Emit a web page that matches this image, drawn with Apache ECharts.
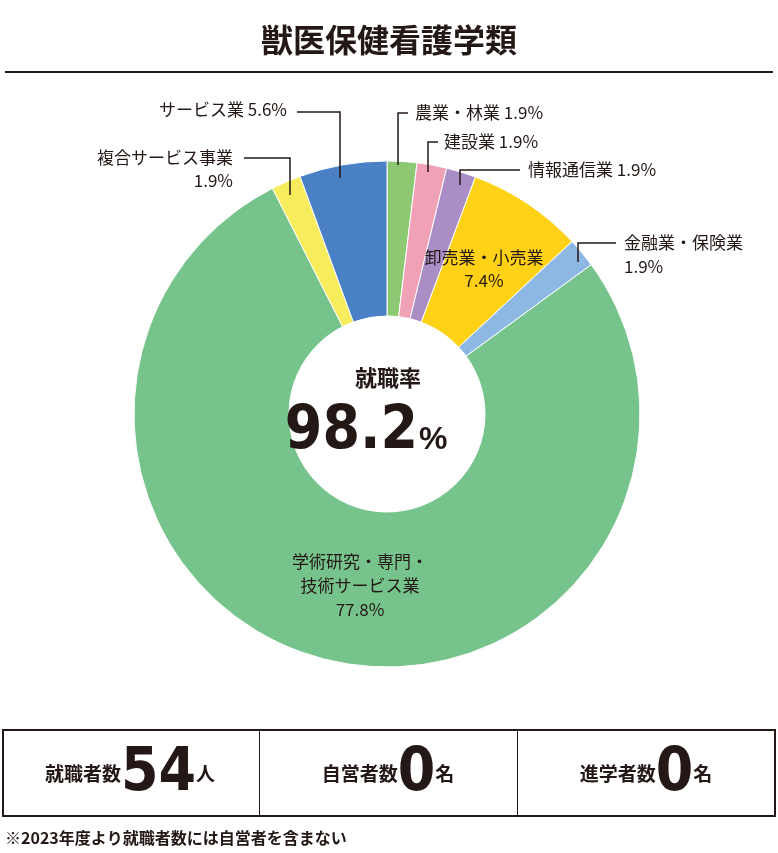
<!DOCTYPE html>
<html><head><meta charset="utf-8">
<script src="https://cdn.jsdelivr.net/npm/echarts@6/dist/echarts.min.js"></script>
<style>html,body{margin:0;padding:0;background:#fff}#c{width:778px;height:853px}</style>
</head><body><div id="c"></div>
<script>
const categories = ['農業・林業','建設業','情報通信業','卸売業・小売業','金融業・保険業','学術研究・専門・技術サービス業','複合サービス事業','サービス業'];
const values = [1.9,1.9,1.9,7.4,1.9,77.8,1.9,5.6];
const colors = ['#8dc873','#f0a1b5','#aa8dc5','#ffd117','#8db8e4','#77c38c','#f6ec5c','#4a80c4'];
const F = '"Noto Sans CJK JP","Noto Sans",sans-serif';
const chart = echarts.init(document.getElementById('c'));
const t = (x,y,txt,size,align,weight) => ({type:'text',z:100,x:x,y:y,style:{text:txt,font:(weight||'normal')+' '+size+'px '+F,fill:'#231815',textAlign:align||'left',textVerticalAlign:'middle'}});
const line = (pts) => ({type:'polyline',z:100,shape:{points:pts},style:{stroke:'#231815',lineWidth:1.5,fill:null}});
const N = 'bold 60px "Liberation Sans Narrow","DejaVu Sans Condensed",sans-serif';
const box = (x,txt) => ({type:'text',z:100,x:x,y:774,scaleX:1,style:{rich:{a:{font:'bold 19px '+F,fill:'#231815'},b:{font:N,fill:'#231815'}},text:txt,textAlign:'center',textVerticalAlign:'middle'}});
chart.setOption({
  animation:false,
  series:[{type:'pie',z:1,center:[387,414],radius:[98,253],startAngle:90,clockwise:true,
    label:{show:false},labelLine:{show:false},
    itemStyle:{borderColor:'#fff',borderWidth:1},
    data:categories.map((n,i)=>({name:n,value:values[i],itemStyle:{color:colors[i]}}))}],
  graphic:[
    t(389,40,'獣医保健看護学類',32,'center','bold'),
    {type:'rect',z:100,shape:{x:5,y:71,width:768,height:2},style:{fill:'#231815'}},
    t(287,110,'サービス業 5.6%',17,'right'),
    line([[297,112],[340,112],[340,178]]),
    t(233,158,'複合サービス事業',17,'right'),
    t(233,181,'1.9%',17,'right'),
    line([[244,158],[290,158],[290,195]]),
    t(415,113,'農業・林業 1.9%',17,'left'),
    line([[408,113],[398,113],[398,165]]),
    t(444,142,'建設業 1.9%',17,'left'),
    line([[438,142],[428,142],[428,172]]),
    t(528,170,'情報通信業 1.9%',17,'left'),
    line([[520,170],[460,170],[460,185]]),
    t(624,243,'金融業・保険業',17,'left'),
    t(624,267,'1.9%',17,'left'),
    line([[616,243],[578,243],[578,262]]),
    t(484,258,'卸売業・小売業',17,'center'),
    t(484,281,'7.4%',17,'center'),
    t(360,562,'学術研究・専門・',17,'center'),
    t(360,586,'技術サービス業',17,'center'),
    t(360,610,'77.8%',17,'center'),
    t(388,378,'就職率',22,'center','bold'),
    {type:'text',z:100,x:418,y:432,style:{text:'98.2',font:N,fill:'#231815',textAlign:'right',textVerticalAlign:'middle'}},
    {type:'text',z:100,x:419,y:440,style:{text:'%',font:'bold 32px "Liberation Sans Narrow",sans-serif',fill:'#231815',textAlign:'left',textVerticalAlign:'middle'}},
    {type:'rect',z:100,shape:{x:3,y:730,width:772,height:86},style:{fill:'none',stroke:'#231815',lineWidth:2}},
    {type:'rect',z:100,shape:{x:259,y:730,width:1,height:86},style:{fill:'#231815'}},
    {type:'rect',z:100,shape:{x:517,y:730,width:1,height:86},style:{fill:'#231815'}},
    box(130,'{a|就職者数}{b|54}{a|人}'),
    box(388,'{a|自営者数}{b|0}{a|名}'),
    box(646,'{a|進学者数}{b|0}{a|名}'),
    t(5,838,'※2023年度より就職者数には自営者を含まない',16,'left','bold')
  ]
});
</script></body></html>
